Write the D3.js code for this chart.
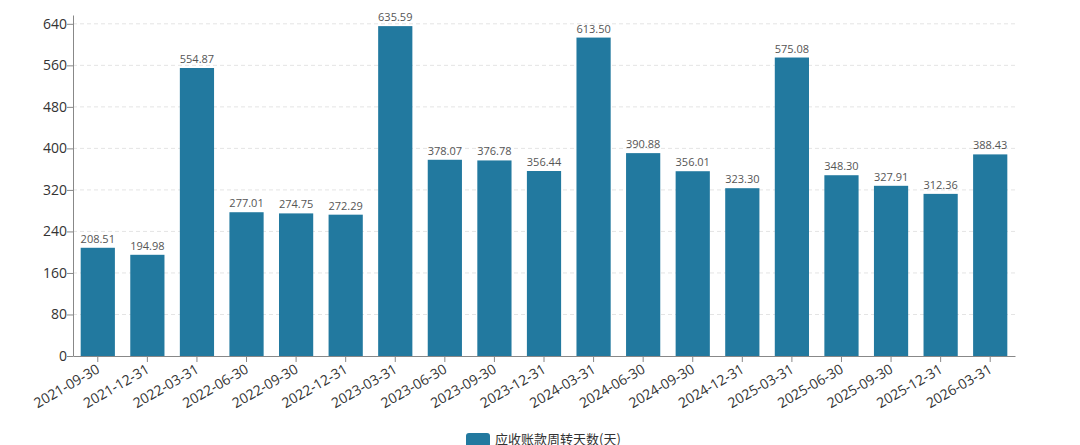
<!DOCTYPE html>
<html>
<head>
<meta charset="utf-8">
<script src="https://cdn.jsdelivr.net/npm/d3@7"></script>
<style>
  body { margin: 0; background: #fff; }
  text { font-family: "Noto Sans CJK SC", "Noto Sans", sans-serif; }
</style>
</head>
<body>
<svg id="chart" width="1080" height="445"></svg>
<script>
// quarter end dates
var dates = ["2021-09-30", "2021-12-31", "2022-03-31", "2022-06-30", "2022-09-30", "2022-12-31",
  "2023-03-31", "2023-06-30", "2023-09-30", "2023-12-31", "2024-03-31", "2024-06-30",
  "2024-09-30", "2024-12-31", "2025-03-31", "2025-06-30", "2025-09-30", "2025-12-31", "2026-03-31"];
// receivable turnover days
var days = [208.51, 194.98, 554.87, 277.01, 274.75, 272.29, 635.59, 378.07, 376.78, 356.44,
  613.50, 390.88, 356.01, 323.30, 575.08, 348.30, 327.91, 312.36, 388.43];
var yTicks = [0, 80, 160, 240, 320, 400, 480, 560, 640];
var seriesName = "应收账款周转天数(天)";

var svg = d3.select("#chart");
var padL = 73, padR = 1015, padT = 15, padB = 356;
var color = "#22799f";

var x = d3.scaleBand().domain(dates).range([padL, padR]).paddingInner(0.31).paddingOuter(0.155);
var y = d3.scaleLinear().domain([0, 657]).range([padB, padT]);

// grid lines
svg.append("g").selectAll("line")
  .data(yTicks.filter(function(d) { return d > 0; }))
  .enter().append("line")
  .attr("x1", padL).attr("x2", padR)
  .attr("y1", function(d) { return y(d); }).attr("y2", function(d) { return y(d); })
  .attr("stroke", "#e4e4e4").attr("stroke-dasharray", "4,3");

// bars
svg.append("g").selectAll("rect")
  .data(days)
  .enter().append("rect")
  .attr("x", function(d, i) { return x(dates[i]); })
  .attr("width", x.bandwidth())
  .attr("y", function(d) { return y(d); })
  .attr("height", function(d) { return padB - y(d); })
  .attr("fill", color);

// value labels
svg.append("g").selectAll("text")
  .data(days)
  .enter().append("text")
  .attr("x", function(d, i) { return x(dates[i]) + x.bandwidth() / 2; })
  .attr("y", function(d) { return y(d) - 5; })
  .attr("text-anchor", "middle")
  .attr("font-size", 11)
  .attr("fill", "#555")
  .style("font-family", "'Open Sans', sans-serif")
  .text(function(d) { return d.toFixed(2); });

// y axis
var yAxis = svg.append("g")
  .attr("transform", "translate(" + padL + ",0)")
  .call(d3.axisLeft(y).tickValues(yTicks).tickSize(6).tickSizeOuter(0));
yAxis.select(".domain").attr("stroke", "#888");
yAxis.selectAll(".tick line").attr("stroke", "#888");
yAxis.selectAll(".tick text").attr("font-size", 14).attr("fill", "#333").attr("x", -6)
  .style("font-family", "'Open Sans', sans-serif");

// x axis
var xAxis = svg.append("g")
  .attr("transform", "translate(0," + padB + ")")
  .call(d3.axisBottom(x).tickSize(6).tickSizeOuter(0));
xAxis.select(".domain").attr("stroke", "#888");
xAxis.selectAll(".tick line").attr("stroke", "#888");
xAxis.selectAll(".tick text")
  .attr("font-size", 14).attr("fill", "#333")
  .style("font-family", "'Open Sans', sans-serif")
  .attr("text-anchor", "end")
  .attr("y", 0).attr("dy", 0)
  .attr("transform", "translate(3,16) rotate(-30)");

// legend
var lg = svg.append("g").attr("transform", "translate(466,433)");
lg.append("rect").attr("width", 24).attr("height", 14).attr("rx", 3).attr("fill", color);
lg.append("text").attr("x", 29).attr("y", 11).attr("font-size", 13).attr("fill", "#333").text(seriesName);
</script>
</body>
</html>
